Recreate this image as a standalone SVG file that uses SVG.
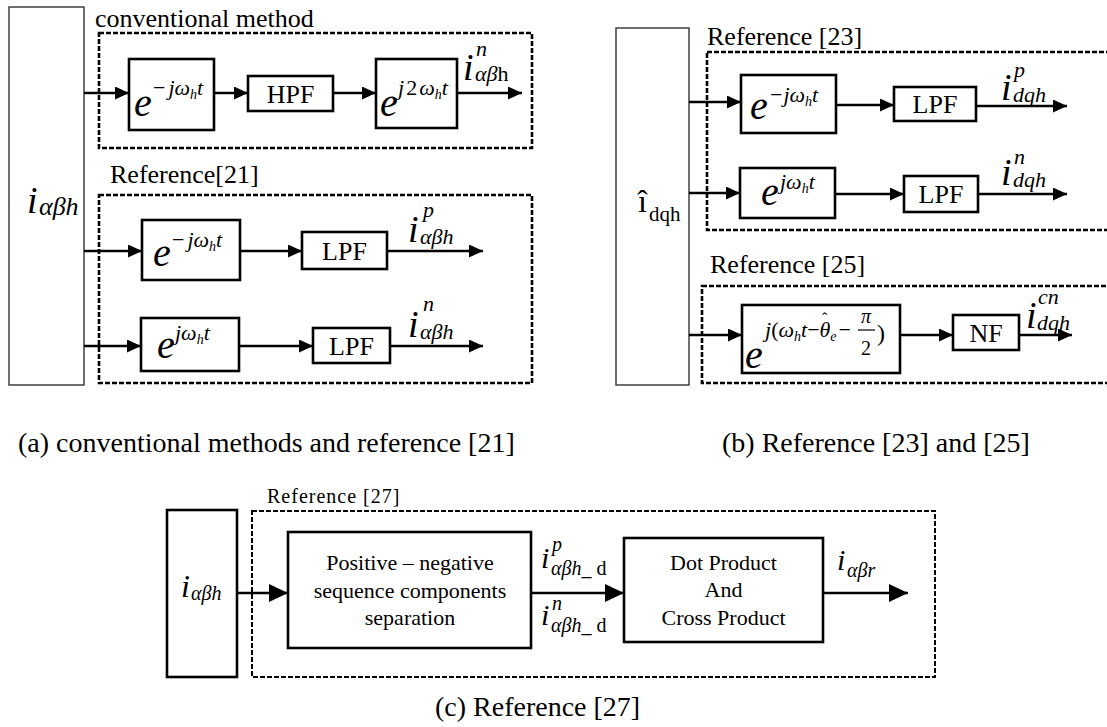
<svg xmlns="http://www.w3.org/2000/svg" width="1107" height="727" viewBox="0 0 1107 727">
<style>
text{font-family:"Liberation Serif","Times New Roman",serif;fill:#000}
.lbl{font-size:26px}
.cap{font-size:28px}
.blk{font-size:26px}
.c22{font-size:22px}
.it{font-style:italic}
.e{font-size:40px;font-style:italic}
.sup{font-size:22px;font-style:italic}
.sb{font-size:14px;font-style:italic}
.iv{font-size:38px;font-style:italic}
.box{fill:#fff;stroke:#000;stroke-width:2.6}
.big{fill:#fff;stroke:#333;stroke-width:1.4}
.dash{fill:none;stroke:#000;stroke-width:2.6;stroke-dasharray:5 2}
.dashc{fill:none;stroke:#000;stroke-width:2;stroke-dasharray:5 2}
.con{stroke:#000;stroke-width:2.6;fill:none;marker-end:url(#ah)}
.conc{stroke:#000;stroke-width:2.6;fill:none;marker-end:url(#ahc)}
</style>
<defs>
<marker id="ah" markerUnits="userSpaceOnUse" markerWidth="14" markerHeight="13" refX="14" refY="6.5" orient="auto"><path d="M0,0 L14,6.5 L0,13 z" fill="#000"/></marker>
<marker id="ahc" markerUnits="userSpaceOnUse" markerWidth="19" markerHeight="18" refX="19" refY="9" orient="auto"><path d="M0,0 L19,9 L0,18 z" fill="#000"/></marker>
</defs>
<rect width="1107" height="727" fill="#fff"/>

<!-- panel a -->
<g id="a-input">
<rect class="big" x="9" y="7" width="75" height="378"/>
<text x="27" y="213" class="iv">i</text><text x="39" y="215" class="it" font-size="26">αβh</text>
</g>
<g id="a-conventional">
<text x="95" y="27" class="lbl">conventional method</text>
<rect class="dash" x="99" y="33" width="433" height="115"/>
</g>
<g id="a-ref21">
<text x="110" y="183" class="lbl">Reference[21]</text>
<rect class="dash" x="99" y="195" width="433" height="188"/>
</g>
<g id="a-exp1">
<rect class="box" x="129" y="59" width="85" height="71"/>
<text x="134" y="116" class="e">e</text>
<text x="153" y="95" class="sup"><tspan font-style="normal">−</tspan><tspan dx="3">jω</tspan><tspan class="sb" dy="4">h</tspan><tspan dy="-4">t</tspan></text>
</g>
<g id="a-hpf">
<rect class="box" x="248" y="76" width="85" height="35"/>
<text x="290.5" y="103" class="blk" text-anchor="middle">HPF</text>
</g>
<g id="a-exp2">
<rect class="box" x="376" y="59" width="81" height="69"/>
<text x="380" y="116" class="e">e</text>
<text x="398" y="95" class="sup">j<tspan dx="2" font-style="normal">2</tspan><tspan dx="2">ω</tspan><tspan class="sb" dy="4">h</tspan><tspan dy="-4">t</tspan></text>
</g>
<g id="a-out1">
<text x="463" y="80" class="iv">i</text>
<text x="476" y="56" class="sup">n</text>
<text x="475" y="81" class="sup">αβ<tspan font-style="normal">h</tspan></text>
</g>
<g id="a-exp3">
<rect class="box" x="142" y="220" width="98" height="60"/>
<text x="153" y="266" class="e">e</text>
<text x="172" y="247" class="sup"><tspan font-style="normal">−</tspan><tspan dx="3">jω</tspan><tspan class="sb" dy="4">h</tspan><tspan dy="-4">t</tspan></text>
</g>
<g id="a-lpf1">
<rect class="box" x="302" y="232" width="85" height="37"/>
<text x="344.5" y="260" class="blk" text-anchor="middle">LPF</text>
</g>
<g id="a-out2">
<text x="408" y="242" class="iv">i</text>
<text x="423" y="217" class="sup">p</text>
<text x="420" y="244" class="sup">αβh</text>
</g>
<g id="a-exp4">
<rect class="box" x="141" y="318" width="98" height="53"/>
<text x="157" y="358" class="e">e</text>
<text x="175" y="340" class="sup">jω<tspan class="sb" dy="4">h</tspan><tspan dy="-4">t</tspan></text>
</g>
<g id="a-lpf2">
<rect class="box" x="313" y="328" width="77" height="35"/>
<text x="351.5" y="355" class="blk" text-anchor="middle">LPF</text>
</g>
<g id="a-out3">
<text x="408" y="337" class="iv">i</text>
<text x="423" y="311" class="sup">n</text>
<text x="420" y="339" class="sup">αβh</text>
</g>
<text x="18" y="452" class="cap">(a) conventional methods and reference [21]</text>

<!-- panel b -->
<g id="b-input">
<rect class="big" x="616" y="28" width="73" height="357"/>
<text x="638" y="212" font-size="32">î</text><text x="649" y="221" font-size="21">dqh</text>
</g>
<g id="b-ref23">
<text x="707" y="45" class="lbl">Reference [23]</text>
<rect class="dash" x="707" y="52" width="420" height="178"/>
</g>
<g id="b-ref25">
<text x="710" y="273" class="lbl">Reference [25]</text>
<rect class="dash" x="702" y="286" width="425" height="97"/>
</g>
<g id="b-exp1">
<rect class="box" x="741" y="75" width="95" height="58"/>
<text x="750" y="119" class="e">e</text>
<text x="770" y="102" class="sup"><tspan font-style="normal">−</tspan><tspan dx="1">jω</tspan><tspan class="sb" dy="4">h</tspan><tspan dy="-4">t</tspan></text>
</g>
<g id="b-lpf1">
<rect class="box" x="894" y="87" width="82" height="34"/>
<text x="935" y="113" class="blk" text-anchor="middle">LPF</text>
</g>
<g id="b-out1">
<text x="1001" y="100" class="iv">i</text>
<text x="1014" y="77" class="sup">p</text>
<text x="1013" y="102" class="sup">dqh</text>
</g>
<g id="b-exp2">
<rect class="box" x="740" y="168" width="95" height="50"/>
<text x="761" y="205" class="e">e</text>
<text x="780" y="189" class="sup">jω<tspan class="sb" dy="4">h</tspan><tspan dy="-4">t</tspan></text>
</g>
<g id="b-lpf2">
<rect class="box" x="904" y="176" width="74" height="36"/>
<text x="941" y="203" class="blk" text-anchor="middle">LPF</text>
</g>
<g id="b-out2">
<text x="1001" y="185" class="iv">i</text>
<text x="1014" y="164" class="sup">n</text>
<text x="1013" y="187" class="sup">dqh</text>
</g>
<g id="b-exp3">
<rect class="box" x="742" y="305" width="158" height="68"/>
<text x="745" y="368" class="e">e</text>
<text x="765" y="337" class="sup">j<tspan font-style="normal">(</tspan>ω<tspan class="sb" dy="4">h</tspan><tspan dy="-4">t</tspan><tspan font-style="normal">−</tspan>θ<tspan class="sb" dy="4">e</tspan><tspan dy="-4" dx="2" font-style="normal">−</tspan></text>
<text x="822" y="324" font-size="16">ˆ</text>
<text x="866" y="323" font-size="20" class="it" text-anchor="middle">π</text>
<line x1="858" y1="330" x2="875" y2="330" stroke="#000" stroke-width="1.2"/>
<text x="866" y="355" font-size="20" text-anchor="middle">2</text>
<text x="877" y="341" font-size="24">)</text>
</g>
<g id="b-nf">
<rect class="box" x="953" y="315" width="66" height="35"/>
<text x="986" y="342" class="blk" text-anchor="middle">NF</text>
</g>
<g id="b-out3">
<text x="1026" y="328" class="iv" font-size="36">i</text>
<text x="1038" y="304" class="sup" font-size="20">cn</text>
<text x="1037" y="330" class="sup" font-size="20">dqh</text>
</g>
<text x="722" y="452" class="cap">(b) Reference [23] and [25]</text>

<!-- panel c -->
<g id="c-input">
<rect class="box" x="167" y="510" width="70" height="167"/>
<text x="181" y="597" class="it" font-size="32">i</text><text x="191" y="600" class="it" font-size="20">αβh</text>
</g>
<g id="c-ref27">
<text x="267" y="503" font-size="20" letter-spacing="1">Reference [27]</text>
<rect class="dashc" x="252" y="511" width="683" height="166"/>
</g>
<g id="c-separation">
<rect class="box" x="288" y="532" width="243" height="116"/>
<text x="410" y="570" class="c22" text-anchor="middle">Positive – negative</text>
<text x="410" y="598" class="c22" text-anchor="middle">sequence components</text>
<text x="410" y="625" class="c22" text-anchor="middle">separation</text>
</g>
<g id="c-mid">
<text x="541" y="568" class="it" font-size="30">i</text>
<text x="552" y="551" class="it" font-size="20">p</text>
<text x="551" y="575" font-size="20"><tspan class="it">αβh</tspan>_ d</text>
<text x="541" y="625" class="it" font-size="30">i</text>
<text x="552" y="610" class="it" font-size="20">n</text>
<text x="551" y="632" font-size="20"><tspan class="it">αβh</tspan>_ d</text>
</g>
<g id="c-product">
<rect class="box" x="624" y="538" width="199" height="104"/>
<text x="723.5" y="570" class="c22" text-anchor="middle">Dot Product</text>
<text x="723.5" y="597" class="c22" text-anchor="middle">And</text>
<text x="723.5" y="625" class="c22" text-anchor="middle">Cross Product</text>
</g>
<g id="c-out">
<text x="837" y="570" class="it" font-size="30">i</text>
<text x="847" y="577" class="it" font-size="20">αβr</text>
</g>
<text x="435" y="716" class="cap">(c) Reference [27]</text>

<g id="connectors">
<line class="con" x1="84" y1="93" x2="129" y2="93"/>
<line class="con" x1="214" y1="93" x2="248" y2="93"/>
<line class="con" x1="333" y1="93" x2="376" y2="93"/>
<line class="con" x1="457" y1="93" x2="522" y2="93"/>
<line class="con" x1="84" y1="251" x2="142" y2="251"/>
<line class="con" x1="240" y1="251" x2="302" y2="251"/>
<line class="con" x1="387" y1="251" x2="483" y2="251"/>
<line class="con" x1="84" y1="346" x2="141" y2="346"/>
<line class="con" x1="239" y1="346" x2="313" y2="346"/>
<line class="con" x1="390" y1="346" x2="483" y2="346"/>
<line class="con" x1="689" y1="102" x2="741" y2="102"/>
<line class="con" x1="836" y1="105" x2="894" y2="105"/>
<line class="con" x1="976" y1="106" x2="1067" y2="106"/>
<line class="con" x1="689" y1="193" x2="740" y2="193"/>
<line class="con" x1="835" y1="194" x2="904" y2="194"/>
<line class="con" x1="978" y1="194" x2="1067" y2="194"/>
<line class="con" x1="689" y1="335" x2="742" y2="335"/>
<line class="con" x1="900" y1="335" x2="953" y2="335"/>
<line class="con" x1="1019" y1="335" x2="1072" y2="335"/>
<line class="conc" x1="237" y1="593" x2="288" y2="593"/>
<line class="conc" x1="531" y1="593" x2="624" y2="593"/>
<line class="conc" x1="823" y1="593" x2="908" y2="593"/>
</g>
</svg>
